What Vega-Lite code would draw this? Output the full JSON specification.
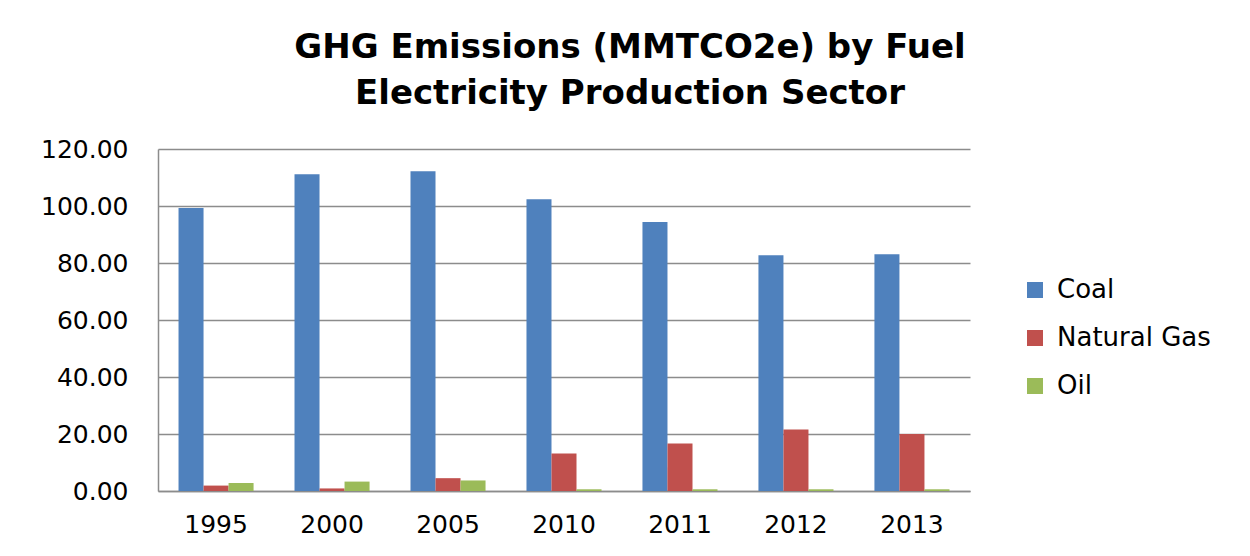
{
  "$schema": "https://vega.github.io/schema/vega-lite/v6.json",
  "autosize": {"type": "none"},
  "width": 812,
  "height": 342,
  "padding": {"left": 158, "top": 149, "right": 280, "bottom": 65},
  "background": "white",
  "title": {
    "text": ["GHG Emissions (MMTCO2e) by Fuel", "Electricity Production Sector"],
    "font": "DejaVu Sans",
    "fontWeight": "bold",
    "fontSize": 34,
    "lineHeight": 46,
    "color": "#000000",
    "anchor": "middle",
    "frame": "group",
    "dx": 66,
    "offset": 26
  },
  "data": {
    "values": [
      {"year": "1995", "fuel": "Coal", "value": 99.3},
      {"year": "1995", "fuel": "Natural Gas", "value": 1.9},
      {"year": "1995", "fuel": "Oil", "value": 2.8},
      {"year": "2000", "fuel": "Coal", "value": 111.1},
      {"year": "2000", "fuel": "Natural Gas", "value": 0.9},
      {"year": "2000", "fuel": "Oil", "value": 3.3},
      {"year": "2005", "fuel": "Coal", "value": 112.2},
      {"year": "2005", "fuel": "Natural Gas", "value": 4.5},
      {"year": "2005", "fuel": "Oil", "value": 3.7},
      {"year": "2010", "fuel": "Coal", "value": 102.4},
      {"year": "2010", "fuel": "Natural Gas", "value": 13.2},
      {"year": "2010", "fuel": "Oil", "value": 0.6},
      {"year": "2011", "fuel": "Coal", "value": 94.4},
      {"year": "2011", "fuel": "Natural Gas", "value": 16.7},
      {"year": "2011", "fuel": "Oil", "value": 0.6},
      {"year": "2012", "fuel": "Coal", "value": 82.7},
      {"year": "2012", "fuel": "Natural Gas", "value": 21.6},
      {"year": "2012", "fuel": "Oil", "value": 0.6},
      {"year": "2013", "fuel": "Coal", "value": 83.1},
      {"year": "2013", "fuel": "Natural Gas", "value": 20.0},
      {"year": "2013", "fuel": "Oil", "value": 0.6}
    ]
  },
  "mark": {"type": "bar"},
  "encoding": {
    "x": {
      "field": "year",
      "type": "nominal",
      "sort": null,
      "scale": {"paddingInner": 0.353, "paddingOuter": 0.177},
      "axis": {
        "title": null,
        "labelAngle": 0,
        "labelPadding": 21,
        "grid": false,
        "ticks": false,
        "domainColor": "#8c8c8c",
        "domainWidth": 1.5
      }
    },
    "xOffset": {
      "field": "fuel",
      "type": "nominal",
      "sort": ["Coal", "Natural Gas", "Oil"],
      "scale": {"paddingInner": 0, "paddingOuter": 0}
    },
    "y": {
      "field": "value",
      "type": "quantitative",
      "scale": {"domain": [0, 120], "nice": false},
      "axis": {
        "title": null,
        "values": [0, 20, 40, 60, 80, 100, 120],
        "format": ".2f",
        "labelPadding": 30,
        "ticks": false,
        "grid": true,
        "gridColor": "#8c8c8c",
        "gridWidth": 1.5,
        "domainColor": "#8c8c8c",
        "domainWidth": 1.5
      }
    },
    "color": {
      "field": "fuel",
      "type": "nominal",
      "sort": ["Coal", "Natural Gas", "Oil"],
      "scale": {
        "domain": ["Coal", "Natural Gas", "Oil"],
        "range": ["#4F81BD", "#C0504D", "#9BBB59"]
      },
      "legend": {
        "title": null,
        "orient": "none",
        "legendX": 864,
        "legendY": 128,
        "symbolType": "square",
        "symbolSize": 256,
        "symbolStrokeWidth": 0,
        "labelFont": "DejaVu Sans",
        "labelFontSize": 26,
        "labelColor": "#000000",
        "labelOffset": 9,
        "rowPadding": 22
      }
    }
  },
  "config": {
    "view": {"stroke": null},
    "axis": {
      "labelFont": "DejaVu Sans",
      "labelFontSize": 25,
      "labelColor": "#000000"
    }
  }
}
